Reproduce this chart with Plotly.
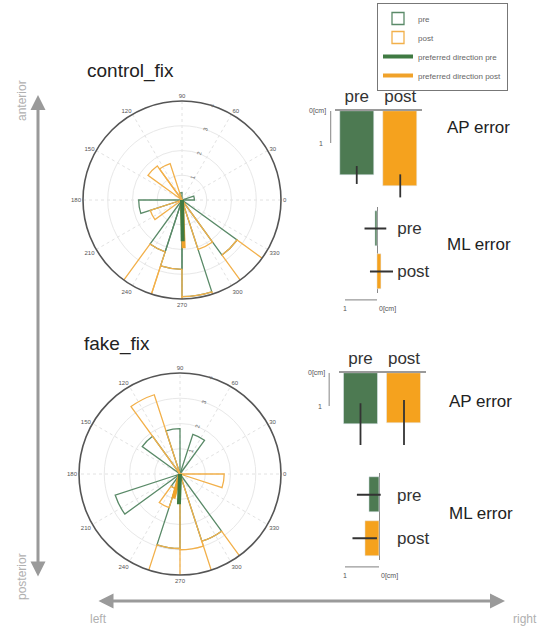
import plotly.graph_objects as go

W, H = 537, 630


def px(x):
    return x / W


def py(y):
    return 1 - y / H


# ---------------- data ----------------
bin_width = 18
ang_ticks = list(range(0, 360, 30))
ang_labels = [str(a) for a in ang_ticks]
r_ticks = [1, 2, 3, 4]
r_labels = ["1", "2", "3", "4"]

# control_fix rose histogram (bin centres in degrees, counts)
ctrl_pre_theta = [9, 99, 189, 243, 261, 279, 315]
ctrl_pre_r = [0.5, 0.3, 1.75, 2.2, 2.8, 3.9, 2.75]
ctrl_post_theta = [117, 135, 207, 243, 261, 279, 297, 315]
ctrl_post_r = [1.55, 1.7, 1.35, 3.6, 4.0, 3.6, 2.1, 1.3]
ctrl_dir_pre = (271, 1.67)
ctrl_dir_post = (272, 1.95)

# fake_fix rose histogram
fake_pre_theta = [63, 99, 135, 207, 243, 261, 297]
fake_pre_r = [1.65, 1.8, 1.85, 2.7, 0.6, 2.95, 2.8]
fake_post_theta = [117, 243, 261, 279, 297, 351]
fake_post_r = [3.3, 0.8, 2.5, 3.0, 4.4, 1.75]
fake_dir_pre = (268, 1.2)
fake_dir_post = (255, 1.0)

groups = ["pre", "post"]
ap_ctrl = [2.0, 2.34]
ap_ctrl_err = [0.28, 0.36]
ml_ctrl = [0.05, -0.14]
ml_ctrl_err = [0.34, 0.36]
ap_fake = [1.55, 1.5]
ap_fake_err = [0.63, 0.68]
ml_fake = [0.3, 0.42]
ml_fake_err = [0.35, 0.36]

# ---------------- style ----------------
G_LINE = "#5a8a68"
O_LINE = "#f2b04a"
G_BAR = "#4d7a52"
O_BAR = "#f5a21e"
G_DIR = "#3f7a42"
O_DIR = "#f0a22a"
ERR = "#333333"

fig = go.Figure()


def add_rose(subplot, pre_t, pre_r, post_t, post_r, dpre, dpost, show):
    fig.add_trace(go.Barpolar(
        theta=pre_t, r=pre_r, width=bin_width, subplot=subplot,
        marker=dict(color="rgba(0,0,0,0)", line=dict(color=G_LINE, width=1.3)),
        name="pre", legendrank=1, showlegend=show, legendgroup="pre"))
    fig.add_trace(go.Barpolar(
        theta=post_t, r=post_r, width=bin_width, subplot=subplot,
        marker=dict(color="rgba(0,0,0,0)", line=dict(color=O_LINE, width=1.3)),
        name="post", legendrank=2, showlegend=show, legendgroup="post"))
    fig.add_trace(go.Scatterpolar(
        theta=[dpost[0], dpost[0]], r=[0, dpost[1]], mode="lines", subplot=subplot,
        line=dict(color=O_DIR, width=4), name="preferred direction post",
        legendrank=4, showlegend=show, legendgroup="dpost"))
    fig.add_trace(go.Scatterpolar(
        theta=[dpre[0], dpre[0]], r=[0, dpre[1]], mode="lines", subplot=subplot,
        line=dict(color=G_DIR, width=4), name="preferred direction pre",
        legendrank=3, showlegend=show, legendgroup="dpre"))


add_rose("polar", ctrl_pre_theta, ctrl_pre_r, ctrl_post_theta, ctrl_post_r,
         ctrl_dir_pre, ctrl_dir_post, True)
add_rose("polar2", fake_pre_theta, fake_pre_r, fake_post_theta, fake_post_r,
         fake_dir_pre, fake_dir_post, False)

# AP error bars (vertical, growing downward)
fig.add_trace(go.Bar(x=groups, y=ap_ctrl, width=0.78, marker_color=[G_BAR, O_BAR],
                     error_y=dict(type="data", array=ap_ctrl_err, width=0, thickness=1.8, color=ERR),
                     xaxis="x", yaxis="y", showlegend=False))
fig.add_trace(go.Bar(x=groups, y=ap_fake, width=0.78, marker_color=[G_BAR, O_BAR],
                     error_y=dict(type="data", array=ap_fake_err, width=0, thickness=1.8, color=ERR),
                     xaxis="x2", yaxis="y2", showlegend=False))
# ML error bars (horizontal, growing left)
fig.add_trace(go.Bar(y=groups, x=ml_ctrl, orientation="h", width=0.8, marker_color=[G_BAR, O_BAR],
                     error_x=dict(type="data", array=ml_ctrl_err, width=0, thickness=1.8, color=ERR),
                     xaxis="x3", yaxis="y3", showlegend=False))
fig.add_trace(go.Bar(y=groups, x=ml_fake, orientation="h", width=0.8, marker_color=[G_BAR, O_BAR],
                     error_x=dict(type="data", array=ml_fake_err, width=0, thickness=1.8, color=ERR),
                     xaxis="x4", yaxis="y4", showlegend=False))


def polar_layout(cx, cy, rad):
    return dict(
        domain=dict(x=[px(cx - rad), px(cx + rad)], y=[py(cy + rad), py(cy - rad)]),
        bgcolor="white",
        angularaxis=dict(tickmode="array", tickvals=ang_ticks, ticktext=ang_labels,
                         tickfont=dict(size=6, color="#555"), showline=True,
                         linecolor="#555", linewidth=1.6, gridcolor="#e2e2e2",
                         griddash="dot", ticks="", direction="counterclockwise",
                         rotation=0),
        radialaxis=dict(range=[0, 4], tickmode="array", tickvals=r_ticks, ticktext=r_labels,
                        angle=75, tickangle=0, showline=False, gridcolor="#e8e8e8",
                        tickfont=dict(size=6, color="#666"), ticks=""),
    )


# AP axes geometry
ap_ctrl_top, ap_ctrl_bot = 111, 200
ap_fake_top, ap_fake_bot = 373, 462

fig.update_layout(
    width=W, height=H, margin=dict(l=0, r=0, t=0, b=0),
    paper_bgcolor="white", plot_bgcolor="white",
    font=dict(family="Liberation Sans, Arial, sans-serif", color="#333"),
    polar=polar_layout(182, 200, 99),
    polar2=polar_layout(180, 474, 101),
    xaxis=dict(domain=[px(335), px(422)], type="category", range=[-0.5, 1.5], side="top",
               showline=True, linecolor="#9a9a9a", linewidth=1.6, ticks="", showgrid=False,
               tickfont=dict(size=17, color="#333"), anchor="y"),
    yaxis=dict(domain=[py(ap_ctrl_bot), py(ap_ctrl_top)],
               range=[(ap_ctrl_bot - ap_ctrl_top) / 32, 0], showticklabels=False,
               showgrid=False, zeroline=False, showline=False, anchor="x"),
    xaxis2=dict(domain=[px(338.75), px(425.75)], type="category", range=[-0.5, 1.5], side="top",
                showline=True, linecolor="#9a9a9a", linewidth=1.6, ticks="", showgrid=False,
                tickfont=dict(size=17, color="#333"), anchor="y2"),
    yaxis2=dict(domain=[py(ap_fake_bot), py(ap_fake_top)],
                range=[(ap_fake_bot - ap_fake_top) / 33, 0], showticklabels=False,
                showgrid=False, zeroline=False, showline=False, anchor="x2"),
    xaxis3=dict(domain=[px(340.2), px(396.2)], range=[1.15, -0.6], showticklabels=False,
                showgrid=False, zeroline=True, zerolinecolor="#888", zerolinewidth=1.3,
                showline=False, anchor="y3"),
    yaxis3=dict(domain=[py(293), py(207)], type="category", range=[1.5, -0.5], side="right",
                showgrid=False, zeroline=False, showline=False, ticks="",
                tickfont=dict(size=17, color="#333"), anchor="x3"),
    xaxis4=dict(domain=[px(338.2), px(396)], range=[1.2, -0.5], showticklabels=False,
                showgrid=False, zeroline=True, zerolinecolor="#888", zerolinewidth=1.3,
                showline=False, anchor="y4"),
    yaxis4=dict(domain=[py(560), py(473)], type="category", range=[1.5, -0.5], side="right",
                showgrid=False, zeroline=False, showline=False, ticks="",
                tickfont=dict(size=17, color="#333"), anchor="x4"),
    legend=dict(x=px(377), y=py(3), xanchor="left", yanchor="top", bgcolor="white",
                bordercolor="#777", borderwidth=1, font=dict(size=8, color="#666"),
                tracegroupgap=0, itemwidth=30),
    bargap=0,
)

shapes = []
annotations = []

# scale bars for AP (vertical, 0 to 1 cm)
for xr, yr, xoff in (("x domain", "y", -0.05), ("x2 domain", "y2", -0.11)):
    shapes.append(dict(type="line", xref=xr, yref=yr, x0=xoff, x1=xoff, y0=0, y1=1,
                       line=dict(color="#999", width=1.2)))
    annotations.append(dict(xref=xr, yref=yr, x=xoff - 0.03, y=0, text="0[cm]", showarrow=False,
                            xanchor="right", yanchor="middle", font=dict(size=7, color="#555")))
    annotations.append(dict(xref=xr, yref=yr, x=xoff - 0.06, y=1, text="1", showarrow=False,
                            xanchor="right", yanchor="middle", font=dict(size=7, color="#555")))

# scale bars for ML (horizontal, 1 to 0 cm)
for xr, yr in (("x3", "y3 domain"), ("x4", "y4 domain")):
    shapes.append(dict(type="line", xref=xr, yref=yr, x0=1, x1=0, y0=-0.08, y1=-0.08,
                       line=dict(color="#999", width=1.2)))
    annotations.append(dict(xref=xr, yref=yr, x=1, y=-0.12, text="1", showarrow=False,
                            xanchor="center", yanchor="top", font=dict(size=7, color="#555")))
    annotations.append(dict(xref=xr, yref=yr, x=0, y=-0.12, text="0[cm]", showarrow=False,
                            xanchor="left", yanchor="top", font=dict(size=7, color="#555")))

# titles and labels
for txt, x, y, size in (("control_fix", 85, 71, 19), ("fake_fix", 82, 344, 19),
                        ("AP error", 445, 128, 17), ("ML error", 445, 245, 17),
                        ("AP error", 447, 402, 17), ("ML error", 447, 513, 17)):
    annotations.append(dict(xref="paper", yref="paper", x=px(x), y=py(y), text=txt,
                            showarrow=False, xanchor="left", yanchor="middle",
                            font=dict(size=size, color="#222")))

# orientation arrows
annotations.append(dict(xref="paper", yref="paper", x=px(38), y=py(95), ax=0, ay=483,
                        text="", showarrow=True, arrowside="end+start", arrowhead=2,
                        arrowsize=1, arrowwidth=3, arrowcolor="#9a9a9a"))
annotations.append(dict(xref="paper", yref="paper", x=px(505), y=py(601), ax=-408, ay=0,
                        text="", showarrow=True, arrowside="end+start", arrowhead=2,
                        arrowsize=1, arrowwidth=3, arrowcolor="#9a9a9a"))
for txt, x, y, ang, xa in (("anterior", 22, 101, -90, "center"), ("posterior", 22, 577, -90, "center"),
                           ("left", 88, 619, 0, "left"), ("right", 511, 619, 0, "left")):
    annotations.append(dict(xref="paper", yref="paper", x=px(x), y=py(y), text=txt,
                            showarrow=False, textangle=ang, xanchor=xa, yanchor="middle",
                            font=dict(size=12, color="#b0b0b0")))

fig.update_layout(shapes=shapes, annotations=annotations)

fig.write_html("out.html", config={"displayModeBar": False},
               post_script="document.body.style.margin='0';")
